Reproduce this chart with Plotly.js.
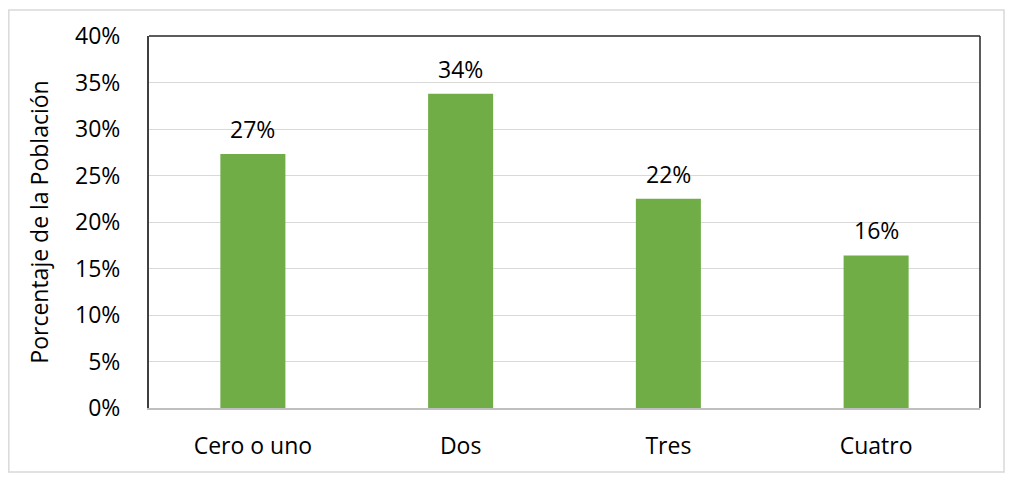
<!DOCTYPE html>
<html>
<head>
<meta charset="utf-8">
<script src="https://cdn.plot.ly/plotly-3.0.1.min.js"></script>
<style>
  html, body { margin: 0; padding: 0; background: #fff; }
  #chart { width: 1011px; height: 480px; }
</style>
</head>
<body>
<div id="chart"></div>
<script>
// datos
const categorias = ["Cero o uno", "Dos", "Tres", "Cuatro"];
const porcentajes = [0.273, 0.338, 0.225, 0.164];
const etiquetas = ["27%", "34%", "22%", "16%"];
const yTicks = [0, 0.05, 0.10, 0.15, 0.20, 0.25, 0.30, 0.35, 0.40];

const fuente = "Open Sans, Liberation Sans, sans-serif";

const trace = {
  type: "bar",
  x: categorias,
  y: porcentajes,
  marker: { color: "#70ad47" },
  hoverinfo: "skip"
};

const notas = categorias.map((c, i) => ({
  x: c,
  y: porcentajes[i],
  text: etiquetas[i],
  showarrow: false,
  yanchor: "bottom",
  yshift: 7,
  font: { family: fuente, size: 23, color: "#000" }
}));

const layout = {
  width: 1011,
  height: 480,
  margin: { l: 149, r: 31, t: 36, b: 72 },
  paper_bgcolor: "#fff",
  plot_bgcolor: "#fff",
  showlegend: false,
  bargap: 0.687,
  font: { family: fuente, color: "#000" },
  xaxis: {
    showline: true,
    linecolor: "#bfbfbf",
    linewidth: 2,
    ticks: "",
    ticklabelstandoff: 16,
    tickfont: { size: 23, color: "#000" }
  },
  yaxis: {
    range: [0, 0.4],
    tickvals: yTicks,
    tickformat: ".0%",
    showline: true,
    linecolor: "#404040",
    linewidth: 2,
    gridcolor: "#d9d9d9",
    gridwidth: 1,
    zeroline: false,
    ticks: "",
    ticklabelstandoff: 22,
    tickfont: { size: 23, color: "#000" },
    title: {
      text: "Porcentaje de la Población",
      standoff: 20,
      font: { size: 23, color: "#000" }
    }
  },
  annotations: notas,
  shapes: [
    // marco exterior
    { type: "rect", xref: "paper", yref: "paper", x0: -0.1687, x1: 1.0289, y0: -0.172, y1: 1.0699,
      line: { color: "#d9d9d9", width: 1.5 }, layer: "below" },
    // borde superior y derecho del area
    { type: "line", xref: "paper", yref: "paper", x0: 0, x1: 1, y0: 1, y1: 1,
      line: { color: "#262626", width: 1.5 } },
    { type: "line", xref: "paper", yref: "paper", x0: 1, x1: 1, y0: 0, y1: 1,
      line: { color: "#262626", width: 1.5 } }
  ]
};

Plotly.newPlot("chart", [trace], layout, { displayModeBar: false, staticPlot: true });
</script>
</body>
</html>
